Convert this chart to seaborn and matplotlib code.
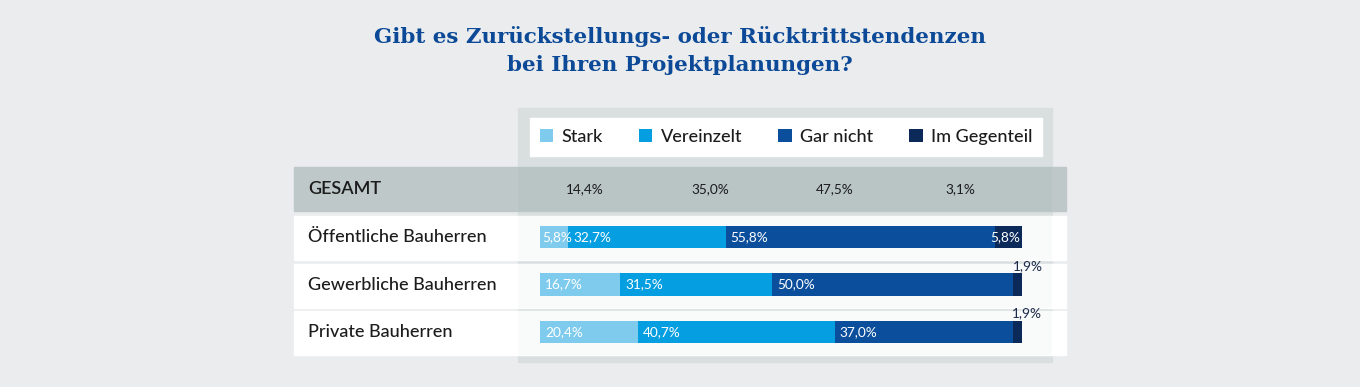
"""
Stacked horizontal bar chart: Zurückstellungs- / Rücktrittstendenzen
bei Projektplanungen, split by Bauherren type.
"""

import numpy as np
import pandas as pd
import matplotlib
matplotlib.use("Agg")
import matplotlib.pyplot as plt
from matplotlib.patches import Rectangle, Patch
import seaborn as sns

# === Data ===
answers = ["Stark", "Vereinzelt", "Gar nicht", "Im Gegenteil"]
groups = ["Öffentliche Bauherren", "Gewerbliche Bauherren", "Private Bauherren"]
stark = [5.8, 16.7, 20.4]
vereinzelt = [32.7, 31.5, 40.7]
gar_nicht = [55.8, 50.0, 37.0]
im_gegenteil = [5.8, 1.9, 1.9]
gesamt = [14.4, 35.0, 47.5, 3.1]

colors = ["#7ecbed", "#059ee0", "#0b4f9c", "#0b2a5a"]
title = "Gibt es Zurückstellungs- oder Rücktrittstendenzen\nbei Ihren Projektplanungen?"

# === Style ===
sns.set_theme(style="white")
plt.rcParams["font.family"] = ["Lato", "DejaVu Sans"]

BG = "#ebeced"
W, H = 1360, 387

fig = plt.figure(figsize=(W / 100, H / 100), dpi=100, facecolor=BG)

# background layer in pixel coordinates
bg = fig.add_axes([0, 0, 1, 1])
bg.set_xlim(0, W)
bg.set_ylim(H, 0)
bg.axis("off")
bg.set_facecolor(BG)

# panel behind the bars
bg.add_patch(Rectangle((518, 108), 534, 254, color="#d9dfdf", zorder=1))
# GESAMT band
bg.add_patch(Rectangle((294, 167), 772, 44, color="#bec8c8", zorder=2))
bg.add_patch(Rectangle((518, 167), 534, 44, color="#9aaaaa", alpha=0.12, lw=0, zorder=2.5))
# white rows
for top in [216, 263.5, 311]:
    bg.add_patch(Rectangle((294, top), 772, 44, color="white", zorder=2))
    bg.add_patch(Rectangle((518, top), 534, 44, color="#9aaaaa", alpha=0.06, lw=0, zorder=2.5))
# legend box
bg.add_patch(Rectangle((530, 118), 512, 38, color="white", zorder=3))

# title
bg.text(680, 51, title, ha="center", va="center", fontsize=15.4, fontweight="bold",
        family=["DejaVu Serif"], color="#0c4a98", linespacing=1.5, zorder=5)

# row labels
bg.text(308, 189, "GESAMT", ha="left", va="center", fontsize=13, fontweight="semibold",
        color="#1c1c1c", zorder=5)
for i, g in enumerate(groups):
    bg.text(308, 237 + i * 47.5, g, ha="left", va="center", fontsize=13,
            fontweight="medium", color="#1c1c1c", zorder=5)

# GESAMT values
for i, v in enumerate(gesamt):
    bg.text(585 + i * 125, 189, f"{v:.1f}%".replace(".", ","), ha="center", va="center",
            fontsize=9.8, color="#1c1c1c", zorder=5)

# legend
handles = [Patch(facecolor=c, edgecolor="none") for c in colors]
leg = fig.legend(handles, answers, ncol=4, loc="center", bbox_to_anchor=(786 / W, 1 - 137 / H),
                 frameon=False, fontsize=13, handlelength=0.75, handleheight=0.75,
                 handletextpad=0.45, columnspacing=2.0, labelcolor="#1c1c1c")
for t in leg.get_texts():
    t.set_fontweight("medium")

# === Bars ===
df = pd.DataFrame({"group": groups, "Stark": stark, "Vereinzelt": vereinzelt,
                   "Gar nicht": gar_nicht, "Im Gegenteil": im_gegenteil})
cum = df[answers].cumsum(axis=1)

ax = fig.add_axes([540 / W, (H - 355.75) / H, 482 / W, 142.5 / H])
ax.patch.set_alpha(0)
for k in range(len(answers) - 1, -1, -1):
    sns.barplot(data=cum.assign(group=groups), x=answers[k], y="group", orient="h",
                color=colors[k], saturation=1, width=0.48, linewidth=0,
                edgecolor="none", ax=ax, zorder=4)
ax.set_xlim(0, 100)
ax.set_ylim(2.5, -0.5)
ax.axis("off")

# segment labels
for i in range(len(groups)):
    starts = np.concatenate([[0], cum.iloc[i, :-1].values])
    for k, a in enumerate(answers):
        v = df.loc[i, a]
        txt = f"{v:.1f}%".replace(".", ",")
        if k == len(answers) - 1:
            end = cum.iloc[i, k]
            if v >= 5:
                ax.annotate(txt, (end, i), xytext=(-2, 0), textcoords="offset pixels",
                            ha="right", va="center", fontsize=9.8, color="white", zorder=6)
            else:
                ax.annotate(txt, (end, i - 0.24), xytext=(20, 1), textcoords="offset pixels",
                            ha="right", va="bottom", fontsize=9.8, color="#1b2a4a", zorder=6)
        else:
            ax.annotate(txt, (starts[k], i), xytext=(2 if v < 8 else 5, 0),
                        textcoords="offset pixels", ha="left", va="center",
                        fontsize=9.8, color="white", zorder=6)

fig.savefig("out.png", dpi=100, facecolor=BG)
